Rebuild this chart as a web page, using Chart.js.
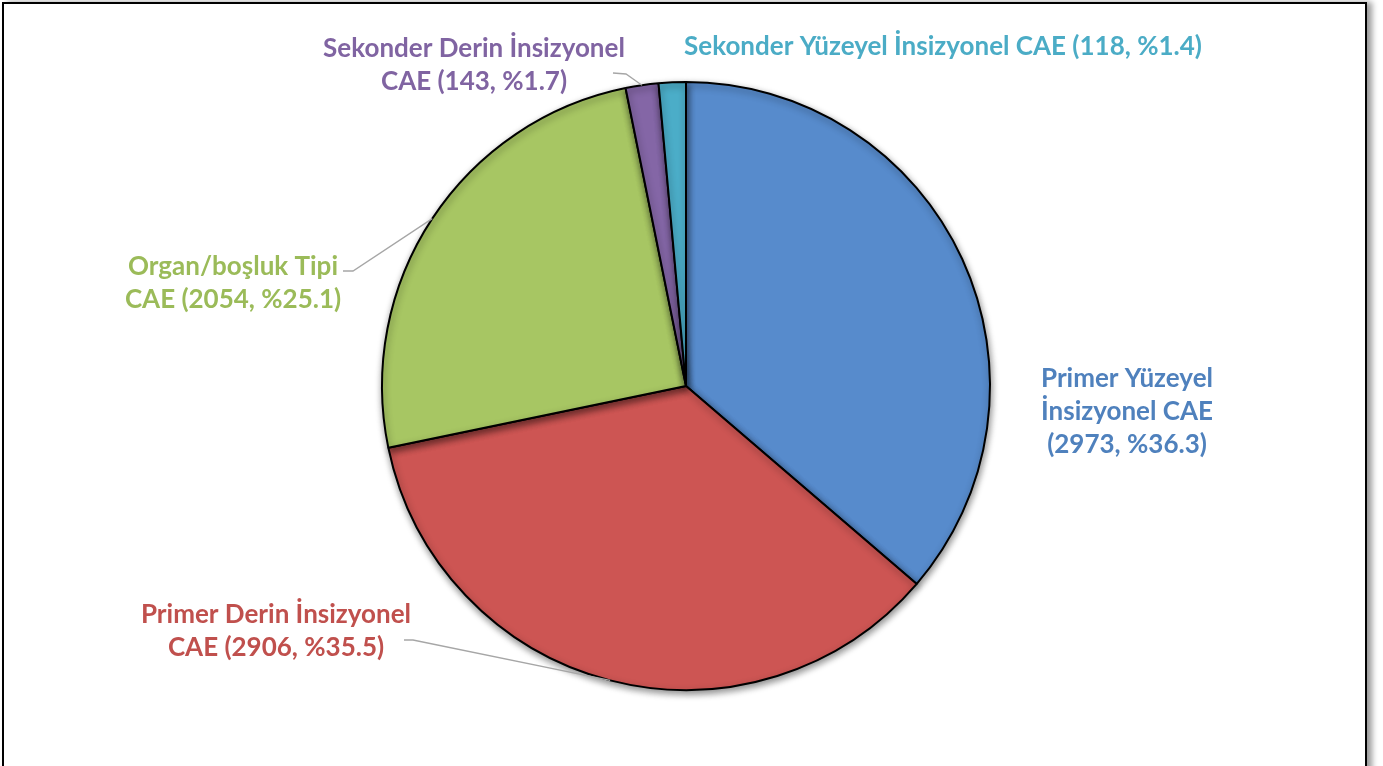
<!DOCTYPE html>
<html>
<head>
<meta charset="utf-8">
<script src="https://cdn.jsdelivr.net/npm/chart.js@4"></script>
<style>
  html, body { margin: 0; padding: 0; background: #fff; overflow: hidden; }
  #wrap { position: relative; width: 1383px; height: 766px; }
  #frame { position: absolute; left: 2px; top: 2px; width: 1361px; height: 820px;
           border: 2px solid #000; box-shadow: 5px 0 6px rgba(0,0,0,0.4); background: #fff; }
  canvas { position: absolute; left: 0; top: 0; }
</style>
</head>
<body>
<div id="wrap">
  <div id="frame"></div>
  <canvas id="c" width="1383" height="766"></canvas>
</div>
<script>
// ---- data ----
const categories = [
  'Primer Yüzeyel İnsizyonel CAE',
  'Primer Derin İnsizyonel CAE',
  'Organ/boşluk Tipi CAE',
  'Sekonder Derin İnsizyonel CAE',
  'Sekonder Yüzeyel İnsizyonel CAE'
];
const counts = [2973, 2906, 2054, 143, 118];
const percents = ['36.3', '35.5', '25.1', '1.7', '1.4'];
const labelLines = [
  ['Primer Yüzeyel', 'İnsizyonel CAE', '(2973, %36.3)'],
  ['Primer Derin İnsizyonel', 'CAE (2906, %35.5)'],
  ['Organ/boşluk Tipi', 'CAE (2054, %25.1)'],
  ['Sekonder Derin İnsizyonel', 'CAE (143, %1.7)'],
  ['Sekonder Yüzeyel İnsizyonel CAE (118, %1.4)']
];
const sliceColors = ['#578bcc', '#cd5553', '#a7c663', '#8466a6', '#4badc8'];
const textColors  = ['#4f81bd', '#c0504d', '#9bbb59', '#8064a2', '#4bacc6'];

// ---- label layout (positions only) ----
const labelLayout = [
  { cx: 1127, cy: 379, leader: null },
  { cx: 276,  cy: 615, leader: [[404, 640], [413, 640]] },
  { cx: 233,  cy: 267, leader: [[343, 271], [353, 271]] },
  { cx: 474,  cy: 49,  leader: [[613, 73], [626, 74]] },
  { cx: 943,  cy: 47,  leader: null }
];

const calloutPlugin = {
  id: 'callouts',
  beforeDatasetsDraw(chart) {
    const ctx = chart.ctx;
    ctx.save();
    ctx.shadowColor = 'rgba(0,0,0,0.45)';
    ctx.shadowBlur = 7;
    ctx.shadowOffsetX = 1;
    ctx.shadowOffsetY = 3;
  },
  afterDatasetsDraw(chart) {
    const ctx = chart.ctx;
    ctx.restore();
    const meta = chart.getDatasetMeta(0);
    ctx.save();
    meta.data.forEach((arc, i) => {
      const p = arc.getProps(['x', 'y', 'startAngle', 'endAngle', 'outerRadius'], true);
      const mid = (p.startAngle + p.endAngle) / 2;
      const ax = p.x + Math.cos(mid) * p.outerRadius;
      const ay = p.y + Math.sin(mid) * p.outerRadius;
      const L = labelLayout[i];
      if (L.leader) {
        ctx.beginPath();
        ctx.strokeStyle = '#a6a6a6';
        ctx.lineWidth = 1.3;
        ctx.moveTo(L.leader[0][0], L.leader[0][1]);
        ctx.lineTo(L.leader[1][0], L.leader[1][1]);
        ctx.lineTo(ax, ay);
        ctx.stroke();
      }
      ctx.fillStyle = textColors[i];
      ctx.font = 'bold 26px Lato';
      ctx.textAlign = 'center';
      ctx.textBaseline = 'middle';
      labelLines[i].forEach((line, k) => {
        ctx.fillText(line, L.cx, L.cy + k * 33);
      });
    });
    ctx.restore();
  }
};

new Chart(document.getElementById('c'), {
  type: 'pie',
  data: {
    labels: categories,
    datasets: [{
      data: counts,
      backgroundColor: sliceColors,
      borderColor: '#000',
      borderWidth: 2
    }]
  },
  options: {
    responsive: false,
    animation: false,
    rotation: 0,
    layout: { padding: { left: 381, right: 392, top: 81, bottom: 75 } },
    plugins: {
      legend: { display: false },
      tooltip: { enabled: false }
    }
  },
  plugins: [calloutPlugin]
});
</script>
</body>
</html>
